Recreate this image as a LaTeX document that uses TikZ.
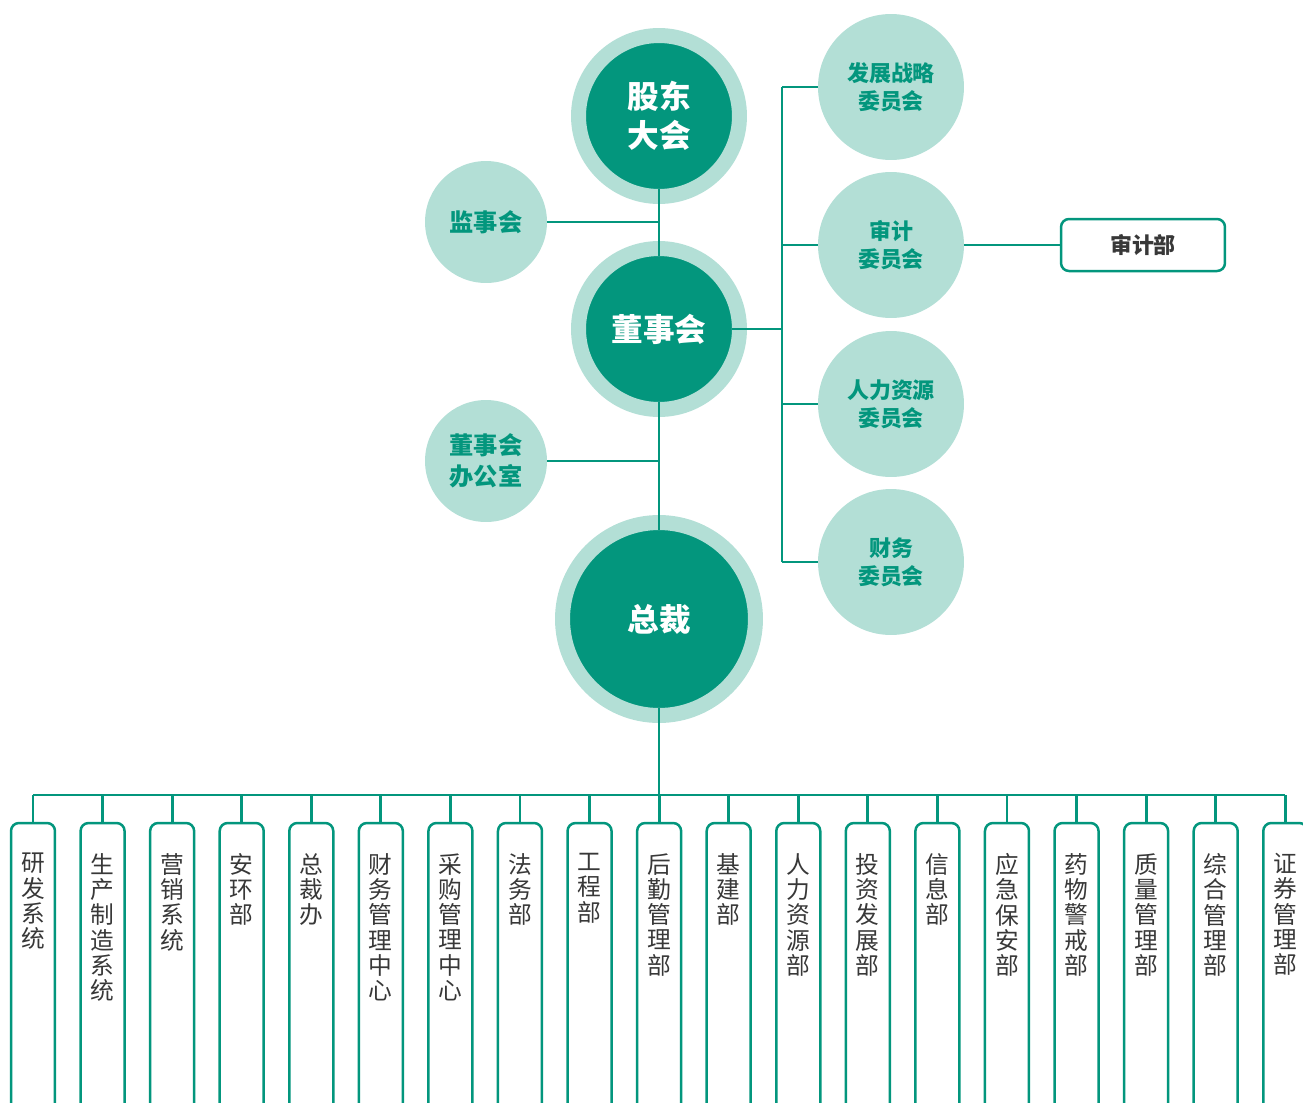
\documentclass[tikz,border=0pt]{standalone}
\usepackage{fontspec}
\newfontfamily\cjk{Noto Sans CJK SC}
\definecolor{darkgreen}{HTML}{03967D}
\definecolor{lightgreen}{HTML}{B3DFD6}
\definecolor{deptgrey}{HTML}{383838}
\tikzset{
  bigcircle/.style={circle, fill=darkgreen, draw=lightgreen, line width=0.3cm,
    outer sep=-0.15cm, inner sep=0pt, text=white, align=center,
    font=\cjk\bfseries\fontsize{18}{22}\selectfont},
  sidecircle/.style={circle, fill=lightgreen, minimum size=2.44cm, inner sep=0pt,
    outer sep=0pt, text=darkgreen, align=center,
    font=\cjk\bfseries\fontsize{13.8}{17.4}\selectfont},
  committee/.style={circle, fill=lightgreen, minimum size=2.92cm, inner sep=0pt,
    outer sep=0pt, text=darkgreen, align=center,
    font=\cjk\bfseries\fontsize{12.5}{15.9}\selectfont},
  auditbox/.style={rectangle, rounded corners=0.16cm, draw=darkgreen, line width=0.05cm,
    fill=white, minimum width=3.28cm, minimum height=1.04cm, inner sep=0pt, outer sep=0pt,
    text=deptgrey, font=\cjk\bfseries\fontsize{12.5}{15}\selectfont},
  deptbox/.style={rectangle, rounded corners=0.16cm, draw=darkgreen, line width=0.05cm,
    fill=white, minimum width=0.88cm, minimum height=6.6cm, anchor=north,
    inner sep=0pt, outer sep=0pt},
  depttext/.style={anchor=north, inner sep=0pt, text=deptgrey, align=center,
    font=\cjk\fontsize{13.5}{14.4}\selectfont},
  link/.style={draw=darkgreen, line width=0.055cm},
}
\begin{document}
\begin{tikzpicture}[x=0.02cm, y=-0.02cm]
  \useasboundingbox (0,0) rectangle (1303,1103);
  \clip (0,0) rectangle (1303,1103);

  % Drawing main chain
  \node [bigcircle, minimum size=3.22cm] (gudong) at (659,116) {股东\\大会};%
  \node [bigcircle, minimum size=3.22cm] (dongshi) at (659,329) {董事会};%
  \node [bigcircle, minimum size=3.86cm] (zongcai) at (659,619) {总裁};%

  % Drawing side circles
  \node [sidecircle] (jianshi) at (486,222) {监事会};%
  \node [sidecircle] (bangong) at (486,461) {董事会\\办公室};%

  % Drawing committees
  \node [committee] (fazhan) at (891,87) {发展战略\\委员会};%
  \node [committee] (shenji) at (891,245) {审计\\委员会};%
  \node [committee] (renli) at (891,404) {人力资源\\委员会};%
  \node [committee] (caiwu) at (891,562) {财务\\委员会};%
  \node [auditbox] (shenjibu) at (1143,245) {审计部};%

  % Drawing links of main chain
  \draw [link] (gudong) -- (dongshi);%
  \draw [link] (dongshi) -- (zongcai);%
  \draw [link] (jianshi) -- (jianshi -| gudong);%
  \draw [link] (bangong) -- (bangong -| dongshi);%

  % Drawing links of committees
  \coordinate (rbus) at (782,329);
  \draw [link] (dongshi) -- (rbus);%
  \draw [link] (rbus |- fazhan) -- (rbus |- caiwu);%
  \foreach \c in {fazhan,shenji,renli,caiwu}
    \draw [link] (rbus |- \c) -- (\c);%
  \draw [link] (shenji) -- (shenjibu);%

  % Drawing departments
  \foreach \dept [count=\i] in {{研\\发\\系\\统}, {生\\产\\制\\造\\系\\统}, {营\\销\\系\\统},
      {安\\环\\部}, {总\\裁\\办}, {财\\务\\管\\理\\中\\心}, {采\\购\\管\\理\\中\\心},
      {法\\务\\部}, {工\\程\\部}, {后\\勤\\管\\理\\部}, {基\\建\\部},
      {人\\力\\资\\源\\部}, {投\\资\\发\\展\\部}, {信\\息\\部}, {应\\急\\保\\安\\部},
      {药\\物\\警\\戒\\部}, {质\\量\\管\\理\\部}, {综\\合\\管\\理\\部}, {证\\券\\管\\理\\部}} {
    \node [deptbox] (d\i) at ({33+69.57*(\i-1)},823) {};%
    \node [depttext] (t\i) at ([yshift=-0.6cm]d\i.north) {\dept};%
  }

  % Drawing links of departments
  \coordinate (bus) at (659,795);
  \draw [link] (zongcai) -- (bus);%
  \draw [link] (d1.north |- bus) -- (d19.north |- bus);%
  \foreach \i in {1,...,19}
    \draw [link] (d\i.north |- bus) -- (d\i.north);%
\end{tikzpicture}
\end{document}
